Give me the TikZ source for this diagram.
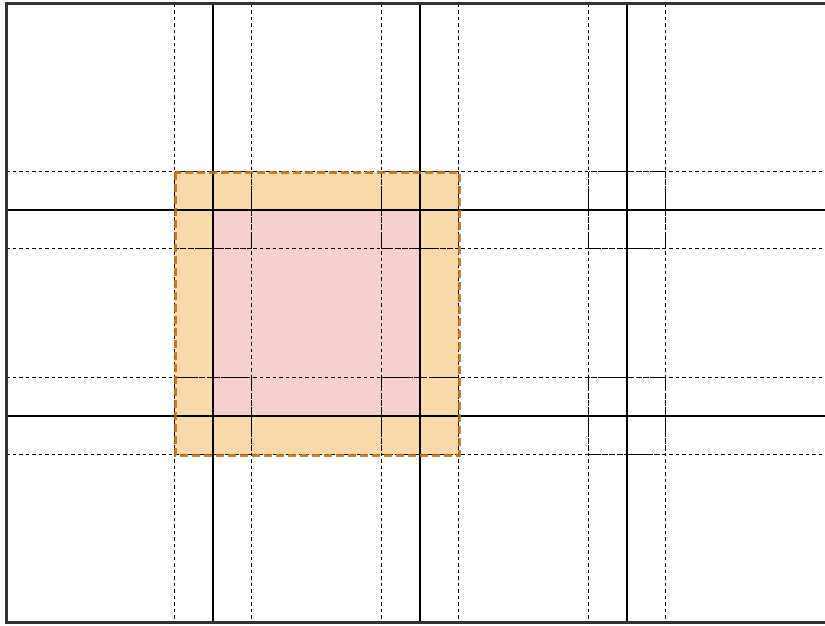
\documentclass[tikz,border=0pt]{standalone}
\definecolor{ofill}{HTML}{F9D8AA}
\definecolor{pfill}{HTML}{F6CFCF}
\definecolor{oborder}{HTML}{B8700F}
\begin{document}
\begin{tikzpicture}[x=1pt,y=-1pt,
  gridsolid/.style={black,line width=1.1pt},
  griddash/.style={black,line width=0.9pt,dash pattern=on 3.5pt off 3pt},
  boxdash/.style={black,line width=0.9pt,dash pattern=on 6pt off 1.5pt},
  frameline/.style={draw=black!80,line width=3pt},
  outerfill/.style={fill=ofill},
  innerfill/.style={fill=pfill},
  outerborder/.style={draw=oborder,line width=3pt,dash pattern=on 8pt off 4pt}]
\useasboundingbox (0,0) rectangle (825,626);
\begin{scope}
\clip (0,0) rectangle (825,626);
% fills
\path[outerfill] (175,172) rectangle (459,455);
\path[innerfill] (213,210) rectangle (420,416);
% vertical lines
\foreach \xx in {213,420,627} {
  \draw[gridsolid] (\xx,4) -- (\xx,622);
  \draw[griddash] (\xx-38.5,4) -- (\xx-38.5,622);
  \draw[griddash] (\xx+38.5,4) -- (\xx+38.5,622);
}
% horizontal lines
\foreach \yy in {210,416} {
  \draw[gridsolid] (6,\yy) -- (840,\yy);
  \draw[griddash] (6,\yy-38.5) -- (840,\yy-38.5);
  \draw[griddash] (6,\yy+38.5) -- (840,\yy+38.5);
}
% boxes around intersections
\foreach \xx in {213,420,627} {
  \foreach \yy in {210,416} {
    \draw[boxdash] (\xx-38.5,\yy-38.5) rectangle (\xx+38.5,\yy+38.5);
  }
}
% orange border
\draw[outerborder,opacity=0.85] (175,172) rectangle (459,455);
% frame
\draw[frameline] (6.5,4) rectangle (840,622.5);
\end{scope}
\end{tikzpicture}
\end{document}
